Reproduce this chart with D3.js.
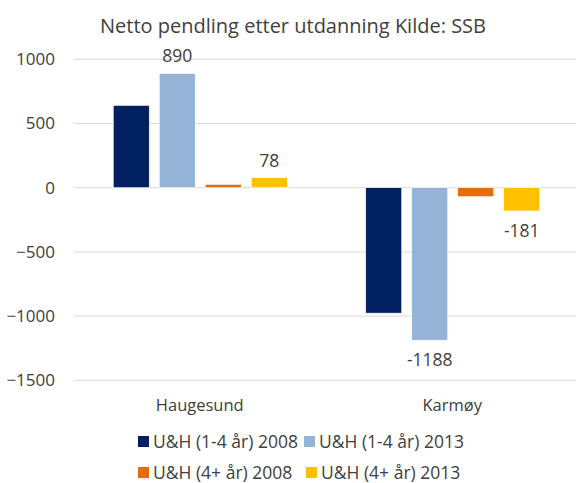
<!DOCTYPE html>
<html>
<head>
<meta charset="utf-8">
<script src="https://cdn.jsdelivr.net/npm/d3@7"></script>
<style>
  body { margin: 0; background: #fff; }
  text { font-family: "Open Sans", "Noto Sans", sans-serif; fill: #404040; }
</style>
</head>
<body>
<svg id="chart" width="576" height="483"></svg>
<script>
var title = "Netto pendling etter utdanning Kilde: SSB";
var categories = ["Haugesund", "Karmøy"];
var seriesNames = ["U&H (1-4 år) 2008", "U&H (1-4 år) 2013", "U&H (4+ år) 2008", "U&H (4+ år) 2013"];
var seriesColors = ["#002060", "#95b3d7", "#e46c0a", "#ffc000"];
var values1to4_2008 = [641, -977];
var values1to4_2013 = [890, -1188];
var values4plus_2008 = [26, -70];
var values4plus_2013 = [78, -181];
var labelledSeries = [1, 3];
var yTicks = [1000, 500, 0, -500, -1000, -1500];

var allValues = [values1to4_2008, values1to4_2013, values4plus_2008, values4plus_2013];

var svg = d3.select("#chart");
var plotLeft = 74, plotRight = 579, plotTop = 59.3, plotBottom = 380.3;

var y = d3.scaleLinear().domain([-1500, 1000]).range([plotBottom, plotTop]);
var x0 = d3.scaleBand().domain(categories).range([plotLeft, plotRight]).padding(0);
var x1 = d3.scaleBand().domain(d3.range(seriesNames.length))
    .range([0, x0.bandwidth()])
    .paddingInner(10 / 46)
    .paddingOuter(0.853);

svg.append("text")
    .attr("x", 293).attr("y", 33)
    .attr("text-anchor", "middle")
    .style("font-size", "20px")
    .text(title);

// gridlines
svg.append("g").selectAll("line")
    .data(yTicks)
    .enter().append("line")
    .attr("x1", plotLeft).attr("x2", 576)
    .attr("y1", function (d) { return y(d); })
    .attr("y2", function (d) { return y(d); })
    .attr("stroke", "#d9d9d9")
    .attr("stroke-width", 1);

// y axis labels
var yAxis = svg.append("g")
    .attr("transform", "translate(" + (plotLeft - 19) + ",0)")
    .call(d3.axisLeft(y).tickValues(yTicks).tickSize(0).tickPadding(0).tickFormat(d3.format("d")));
yAxis.select(".domain").remove();
yAxis.selectAll("text").style("font-size", "17px").attr("fill", "#404040")
    .style("font-family", "'Open Sans', sans-serif");

// x category labels
svg.append("g").selectAll("text")
    .data(categories)
    .enter().append("text")
    .attr("x", function (d) { return x0(d) + x0.bandwidth() / 2 - 0.5; })
    .attr("y", 411)
    .attr("text-anchor", "middle")
    .style("font-size", "16.5px")
    .text(function (d) { return d; });

// bars
var groups = svg.append("g").selectAll("g")
    .data(categories)
    .enter().append("g")
    .attr("transform", function (d) { return "translate(" + x0(d) + ",0)"; });

groups.selectAll("rect")
    .data(function (d, ci) {
        return allValues.map(function (vals, si) { return {s: si, v: vals[ci]}; });
    })
    .enter().append("rect")
    .attr("x", function (d) { return x1(d.s); })
    .attr("width", x1.bandwidth())
    .attr("y", function (d) { return y(Math.max(0, d.v)); })
    .attr("height", function (d) { return Math.abs(y(d.v) - y(0)); })
    .attr("fill", function (d) { return seriesColors[d.s]; })
    .attr("stroke", "#fff")
    .attr("stroke-width", 0.6);

// data labels
groups.selectAll("text.lbl")
    .data(function (d, ci) {
        return labelledSeries.map(function (si) { return {s: si, v: allValues[si][ci]}; });
    })
    .enter().append("text")
    .attr("class", "lbl")
    .attr("x", function (d) { return x1(d.s) + x1.bandwidth() / 2; })
    .attr("y", function (d) { return d.v >= 0 ? y(d.v) - 11 : y(d.v) + 26; })
    .attr("text-anchor", "middle")
    .style("font-size", "17.5px")
    .text(function (d) { return d.v; });

// legend
var legendPos = [[138, 442], [304, 442], [138, 473], [306, 473]];
var legend = svg.append("g").selectAll("g")
    .data(seriesNames)
    .enter().append("g")
    .attr("transform", function (d, i) { return "translate(" + legendPos[i][0] + "," + legendPos[i][1] + ")"; });
legend.append("rect")
    .attr("x", 0).attr("y", -6)
    .attr("width", 11).attr("height", 11)
    .attr("fill", function (d, i) { return seriesColors[i]; });
legend.append("text")
    .attr("x", 15).attr("y", 6)
    .style("font-size", "17.5px")
    .text(function (d) { return d; });
</script>
</body>
</html>
